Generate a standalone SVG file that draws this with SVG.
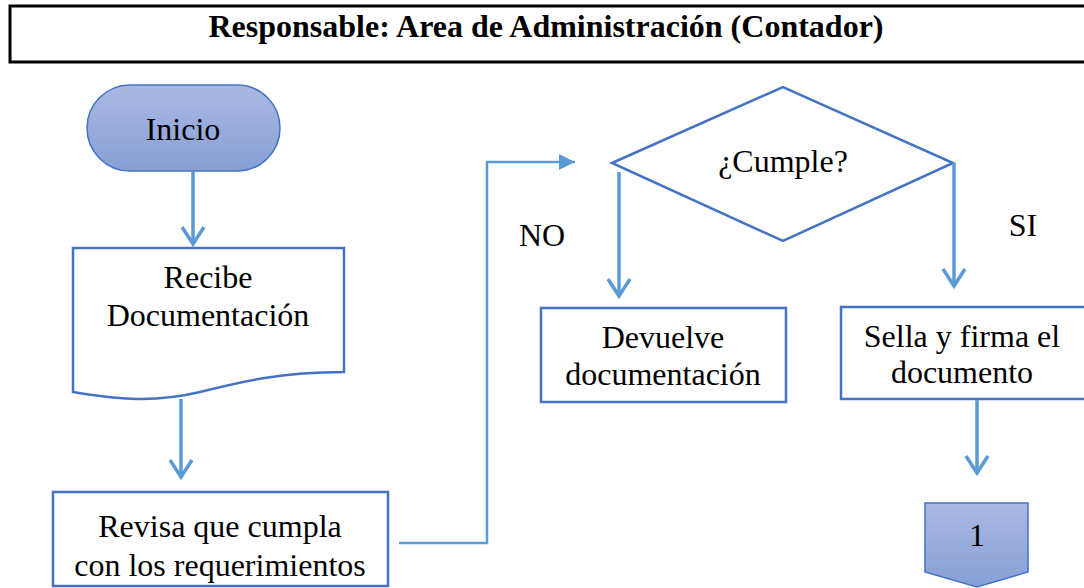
<svg xmlns="http://www.w3.org/2000/svg" width="1084" height="588" viewBox="0 0 1084 588">
<style>
.t{font-family:"Liberation Serif","Times New Roman",serif;font-size:32px;fill:#000;text-anchor:middle}
.h{font-family:"Liberation Serif","Times New Roman",serif;font-size:32px;font-weight:bold;fill:#000;text-anchor:middle}
.box{fill:#fff;stroke:#4472c4;stroke-width:2.5}
.grad{fill:url(#g);stroke:#4472c4;stroke-width:1.5}
.c{fill:none;stroke:#5b9bd5;stroke-width:3.5}
.c2{fill:none;stroke:#5b9bd5;stroke-width:2.5}
.ah{fill:none;stroke:#5b9bd5;stroke-width:3.5;stroke-linejoin:miter}
</style>
<defs>
<linearGradient id="g" x1="0" y1="0" x2="0" y2="1">
<stop offset="0" stop-color="#aab9e2"/>
<stop offset="1" stop-color="#879fd6"/>
</linearGradient>
<marker id="tri" markerUnits="userSpaceOnUse" markerWidth="18" markerHeight="16" refX="16" refY="8" orient="auto">
<path d="M0,0 L16,8 L0,16 Z" fill="#5b9bd5"/>
</marker>
</defs>
<rect width="1084" height="588" fill="#fff"/>
<g id="header">
<rect x="10" y="6" width="1090" height="56" fill="#fff" stroke="#000" stroke-width="3"/>
<text class="h" x="546" y="37">Responsable: Area de Administración (Contador)</text>
</g>
<g id="inicio">
<rect class="grad" x="87" y="85" width="193" height="86" rx="43" ry="43"/>
<text class="t" x="183" y="140">Inicio</text>
</g>
<g id="recibe">
<path class="box" d="M73,248 H344 V372 C280,372 240,382 200,392 C150,404 110,398 73,392 Z"/>
<text class="t" x="208" y="288">Recibe</text>
<text class="t" x="208" y="326">Documentación</text>
</g>
<g id="revisa">
<rect class="box" x="53" y="492" width="335" height="94"/>
<text class="t" x="220" y="537">Revisa que cumpla</text>
<text class="t" x="220" y="576">con los requerimientos</text>
</g>
<g id="cumple">
<path class="box" d="M612,163 L783,87 L953,163 L783,241 Z"/>
<text class="t" x="783" y="172">¿Cumple?</text>
</g>
<g id="devuelve">
<rect class="box" x="541" y="308" width="245" height="94"/>
<text class="t" x="663" y="348">Devuelve</text>
<text class="t" x="663" y="385">documentación</text>
</g>
<g id="sella">
<rect class="box" x="841" y="307" width="260" height="92"/>
<text class="t" x="962" y="347">Sella y firma el</text>
<text class="t" x="962" y="383">documento</text>
</g>
<g id="offpage">
<path class="grad" d="M925,503 H1028 V572 L977,587 L925,572 Z"/>
<text class="t" x="977" y="546">1</text>
</g>
<g id="labels">
<text class="t" x="542" y="246">NO</text>
<text class="t" x="1023" y="236">SI</text>
</g>
<g id="connectors">
<line class="c" x1="193" y1="172" x2="193" y2="244"/>
<polyline class="ah" points="182,227 193,244 204,227"/>
<line class="c" x1="181" y1="399" x2="181" y2="477"/>
<polyline class="ah" points="170,460 181,477 192,460"/>
<polyline class="c2" points="399,543 487,543 487,162 575,162" marker-end="url(#tri)"/>
<line class="c" x1="619" y1="172" x2="619" y2="296"/>
<polyline class="ah" points="608,279 619,296 630,279"/>
<line class="c" x1="954" y1="163" x2="954" y2="286"/>
<polyline class="ah" points="943,269 954,286 965,269"/>
<line class="c" x1="977" y1="400" x2="977" y2="473"/>
<polyline class="ah" points="966,456 977,473 988,456"/>
</g>
</svg>
